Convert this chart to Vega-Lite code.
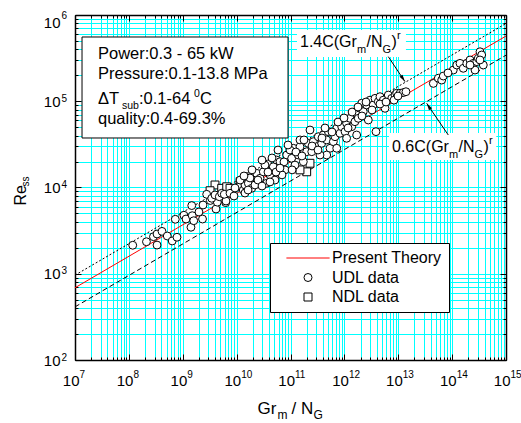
{
  "$schema": "https://vega.github.io/schema/vega-lite/v6.json",
  "width": 431,
  "height": 345,
  "autosize": {"type": "none"},
  "padding": {"left": 75, "top": 15, "right": 15, "bottom": 63},
  "background": "white",
  "config": {
    "font": "Liberation Sans",
    "view": {"stroke": null},
    "axis": {"labelFont": "Liberation Sans", "titleFont": "Liberation Sans", "labelColor": "black", "titleColor": "black", "tickColor": "black", "domainColor": "black", "titleFontWeight": "normal", "labelOverlap": false, "labelFlush": false, "labelBound": false, "tickWidth": 1, "gridColor": "#00ffff", "gridOpacity": 1, "gridWidth": 1}
  },
  "datasets": {
    "pts": [
      {"x": 3.97e9, "y": 10700, "series": "NDL data"},
      {"x": 3.21e9, "y": 9180, "series": "NDL data"},
      {"x": 5.28e9, "y": 9790, "series": "NDL data"},
      {"x": 6.54e9, "y": 10200, "series": "NDL data"},
      {"x": 7.53e9, "y": 9790, "series": "NDL data"},
      {"x": 1.16e10, "y": 11700, "series": "NDL data"},
      {"x": 2.30e11, "y": 19100, "series": "NDL data"},
      {"x": 2.00e11, "y": 15200, "series": "NDL data"},
      {"x": 1.50e11, "y": 16000, "series": "NDL data"},
      {"x": 1.77e10, "y": 13300, "series": "NDL data"},
      {"x": 1.18e8, "y": 2140, "series": "UDL data"},
      {"x": 2.12e8, "y": 2350, "series": "UDL data"},
      {"x": 2.86e8, "y": 2690, "series": "UDL data"},
      {"x": 3.33e8, "y": 2890, "series": "UDL data"},
      {"x": 4.12e8, "y": 3100, "series": "UDL data"},
      {"x": 3.33e8, "y": 2150, "series": "UDL data"},
      {"x": 5.16e8, "y": 2740, "series": "UDL data"},
      {"x": 6.37e8, "y": 2400, "series": "UDL data"},
      {"x": 7.82e8, "y": 2650, "series": "UDL data"},
      {"x": 7.27e8, "y": 4280, "series": "UDL data"},
      {"x": 1.05e9, "y": 4770, "series": "UDL data"},
      {"x": 1.15e9, "y": 4310, "series": "UDL data"},
      {"x": 1.42e9, "y": 3460, "series": "UDL data"},
      {"x": 1.50e9, "y": 4710, "series": "UDL data"},
      {"x": 1.47e9, "y": 6170, "series": "UDL data"},
      {"x": 1.60e9, "y": 4120, "series": "UDL data"},
      {"x": 2.00e9, "y": 5200, "series": "UDL data"},
      {"x": 2.38e9, "y": 6270, "series": "UDL data"},
      {"x": 2.33e9, "y": 4310, "series": "UDL data"},
      {"x": 3.25e9, "y": 7070, "series": "UDL data"},
      {"x": 4.14e9, "y": 5630, "series": "UDL data"},
      {"x": 4.38e9, "y": 6760, "series": "UDL data"},
      {"x": 6.27e9, "y": 6670, "series": "UDL data"},
      {"x": 2.78e9, "y": 8340, "series": "UDL data"},
      {"x": 3.45e9, "y": 7500, "series": "UDL data"},
      {"x": 3.97e9, "y": 8190, "series": "UDL data"},
      {"x": 4.77e9, "y": 7820, "series": "UDL data"},
      {"x": 5.28e9, "y": 8570, "series": "UDL data"},
      {"x": 6.35e9, "y": 6970, "series": "UDL data"},
      {"x": 5.90e9, "y": 8340, "series": "UDL data"},
      {"x": 7.53e9, "y": 8570, "series": "UDL data"},
      {"x": 8.93e9, "y": 7970, "series": "UDL data"},
      {"x": 1.07e10, "y": 10200, "series": "UDL data"},
      {"x": 1.33e10, "y": 9350, "series": "UDL data"},
      {"x": 1.43e10, "y": 10700, "series": "UDL data"},
      {"x": 1.65e10, "y": 11200, "series": "UDL data"},
      {"x": 1.91e10, "y": 9790, "series": "UDL data"},
      {"x": 2.36e10, "y": 14600, "series": "UDL data"},
      {"x": 2.72e10, "y": 12800, "series": "UDL data"},
      {"x": 3.13e10, "y": 15200, "series": "UDL data"},
      {"x": 3.61e10, "y": 11200, "series": "UDL data"},
      {"x": 4.16e10, "y": 14000, "series": "UDL data"},
      {"x": 5.15e10, "y": 12200, "series": "UDL data"},
      {"x": 3.78e10, "y": 18700, "series": "UDL data"},
      {"x": 4.80e10, "y": 17400, "series": "UDL data"},
      {"x": 5.54e10, "y": 20800, "series": "UDL data"},
      {"x": 3.36e10, "y": 18200, "series": "UDL data"},
      {"x": 6.38e10, "y": 19900, "series": "UDL data"},
      {"x": 8.50e10, "y": 23800, "series": "UDL data"},
      {"x": 1.05e11, "y": 21800, "series": "UDL data"},
      {"x": 1.13e11, "y": 28500, "series": "UDL data"},
      {"x": 1.40e11, "y": 23800, "series": "UDL data"},
      {"x": 1.50e11, "y": 29700, "series": "UDL data"},
      {"x": 1.73e11, "y": 19900, "series": "UDL data"},
      {"x": 2.00e11, "y": 26000, "series": "UDL data"},
      {"x": 2.14e11, "y": 32500, "series": "UDL data"},
      {"x": 2.48e11, "y": 26000, "series": "UDL data"},
      {"x": 2.65e11, "y": 34000, "series": "UDL data"},
      {"x": 3.06e11, "y": 29700, "series": "UDL data"},
      {"x": 3.28e11, "y": 38800, "series": "UDL data"},
      {"x": 3.79e11, "y": 32500, "series": "UDL data"},
      {"x": 4.06e11, "y": 40600, "series": "UDL data"},
      {"x": 4.70e11, "y": 35600, "series": "UDL data"},
      {"x": 5.04e11, "y": 44400, "series": "UDL data"},
      {"x": 5.41e11, "y": 28500, "series": "UDL data"},
      {"x": 6.24e11, "y": 34000, "series": "UDL data"},
      {"x": 6.70e11, "y": 38800, "series": "UDL data"},
      {"x": 7.21e11, "y": 48600, "series": "UDL data"},
      {"x": 8.30e11, "y": 42500, "series": "UDL data"},
      {"x": 8.92e11, "y": 50700, "series": "UDL data"},
      {"x": 1.03e12, "y": 44400, "series": "UDL data"},
      {"x": 1.10e12, "y": 55500, "series": "UDL data"},
      {"x": 1.27e12, "y": 63400, "series": "UDL data"},
      {"x": 1.37e12, "y": 50700, "series": "UDL data"},
      {"x": 1.57e12, "y": 57900, "series": "UDL data"},
      {"x": 1.69e12, "y": 72500, "series": "UDL data"},
      {"x": 1.81e12, "y": 63400, "series": "UDL data"},
      {"x": 1.95e12, "y": 82800, "series": "UDL data"},
      {"x": 2.24e12, "y": 75700, "series": "UDL data"},
      {"x": 2.10e12, "y": 95000, "series": "UDL data"},
      {"x": 2.60e12, "y": 90600, "series": "UDL data"},
      {"x": 2.78e12, "y": 60600, "series": "UDL data"},
      {"x": 2.99e12, "y": 103000, "series": "UDL data"},
      {"x": 3.44e12, "y": 90600, "series": "UDL data"},
      {"x": 3.70e12, "y": 108000, "series": "UDL data"},
      {"x": 4.26e12, "y": 98900, "series": "UDL data"},
      {"x": 4.58e12, "y": 113000, "series": "UDL data"},
      {"x": 5.28e12, "y": 103000, "series": "UDL data"},
      {"x": 5.68e12, "y": 82800, "series": "UDL data"},
      {"x": 6.53e12, "y": 118000, "series": "UDL data"},
      {"x": 7.55e12, "y": 108000, "series": "UDL data"},
      {"x": 8.71e12, "y": 118000, "series": "UDL data"},
      {"x": 9.35e12, "y": 124000, "series": "UDL data"},
      {"x": 1.08e13, "y": 124000, "series": "UDL data"},
      {"x": 1.24e13, "y": 126000, "series": "UDL data"},
      {"x": 1.39e13, "y": 129000, "series": "UDL data"},
      {"x": 3.86e12, "y": 44400, "series": "UDL data"},
      {"x": 1.10e12, "y": 37200, "series": "UDL data"},
      {"x": 1.69e12, "y": 40600, "series": "UDL data"},
      {"x": 7.21e11, "y": 28500, "series": "UDL data"},
      {"x": 4.70e11, "y": 23800, "series": "UDL data"},
      {"x": 4.48e13, "y": 161000, "series": "UDL data"},
      {"x": 5.54e13, "y": 185000, "series": "UDL data"},
      {"x": 6.40e13, "y": 176000, "series": "UDL data"},
      {"x": 6.86e13, "y": 196000, "series": "UDL data"},
      {"x": 1.05e14, "y": 230000, "series": "UDL data"},
      {"x": 1.22e14, "y": 263000, "series": "UDL data"},
      {"x": 1.40e14, "y": 275000, "series": "UDL data"},
      {"x": 1.61e14, "y": 241000, "series": "UDL data"},
      {"x": 1.87e14, "y": 275000, "series": "UDL data"},
      {"x": 2.15e14, "y": 301000, "series": "UDL data"},
      {"x": 2.47e14, "y": 275000, "series": "UDL data"},
      {"x": 2.86e14, "y": 288000, "series": "UDL data"},
      {"x": 3.06e14, "y": 315000, "series": "UDL data"},
      {"x": 3.29e14, "y": 375000, "series": "UDL data"},
      {"x": 3.54e14, "y": 344000, "series": "UDL data"},
      {"x": 3.79e14, "y": 263000, "series": "UDL data"},
      {"x": 2.66e14, "y": 230000, "series": "UDL data"},
      {"x": 2.15e14, "y": 263000, "series": "UDL data"},
      {"x": 3.29e14, "y": 301000, "series": "UDL data"},
      {"x": 8.38e13, "y": 213000, "series": "UDL data"},
      {"x": 9.33e9, "y": 9870, "series": "UDL data"},
      {"x": 1.77e10, "y": 12900, "series": "UDL data"},
      {"x": 2.19e10, "y": 10700, "series": "UDL data"},
      {"x": 7.91e10, "y": 16000, "series": "UDL data"},
      {"x": 1.21e11, "y": 18200, "series": "UDL data"},
      {"x": 6.95e10, "y": 14000, "series": "UDL data"},
      {"x": 9.79e10, "y": 27200, "series": "UDL data"},
      {"x": 3.53e11, "y": 23800, "series": "UDL data"},
      {"x": 1.16e10, "y": 12200, "series": "UDL data"},
      {"x": 2.96e10, "y": 20800, "series": "UDL data"},
      {"x": 2.30e11, "y": 46400, "series": "UDL data"},
      {"x": 1.50e11, "y": 35600, "series": "UDL data"},
      {"x": 5.38e10, "y": 15100, "series": "UDL data"},
      {"x": 1.43e10, "y": 8630, "series": "UDL data"},
      {"x": 1.37e10, "y": 13600, "series": "UDL data"},
      {"x": 1.93e10, "y": 16000, "series": "UDL data"},
      {"x": 2.49e10, "y": 12200, "series": "UDL data"},
      {"x": 3.82e10, "y": 15100, "series": "UDL data"},
      {"x": 4.54e10, "y": 22000, "series": "UDL data"},
      {"x": 7.57e10, "y": 19800, "series": "UDL data"},
      {"x": 8.99e10, "y": 31100, "series": "UDL data"},
      {"x": 1.26e11, "y": 25800, "series": "UDL data"},
      {"x": 1.63e11, "y": 23200, "series": "UDL data"},
      {"x": 1.78e11, "y": 35600, "series": "UDL data"},
      {"x": 2.51e11, "y": 30300, "series": "UDL data"},
      {"x": 3.24e11, "y": 27200, "series": "UDL data"},
      {"x": 3.84e11, "y": 37500, "series": "UDL data"},
      {"x": 4.37e11, "y": 49000, "series": "UDL data"},
      {"x": 5.89e11, "y": 44000, "series": "UDL data"},
      {"x": 7.62e11, "y": 57400, "series": "UDL data"},
      {"x": 9.84e11, "y": 64000, "series": "UDL data"},
      {"x": 1.17e12, "y": 49000, "series": "UDL data"},
      {"x": 1.39e12, "y": 75000, "series": "UDL data"},
      {"x": 1.79e12, "y": 85800, "series": "UDL data"},
      {"x": 2.12e12, "y": 67500, "series": "UDL data"},
      {"x": 2.52e12, "y": 98000, "series": "UDL data"},
      {"x": 3.26e12, "y": 79200, "series": "UDL data"},
      {"x": 4.58e12, "y": 92900, "series": "UDL data"},
      {"x": 5.93e12, "y": 98000, "series": "UDL data"},
      {"x": 8.34e12, "y": 103000, "series": "UDL data"},
      {"x": 9.89e12, "y": 115000, "series": "UDL data"},
      {"x": 6.38e10, "y": 16800, "series": "UDL data"},
      {"x": 1.07e11, "y": 16000, "series": "UDL data"},
      {"x": 2.96e10, "y": 10400, "series": "UDL data"},
      {"x": 1.63e10, "y": 9350, "series": "UDL data"},
      {"x": 4.16e10, "y": 11600, "series": "UDL data"},
      {"x": 5.86e10, "y": 27200, "series": "UDL data"}
    ],
    "lines": [
      {"line": "mid", "x": 1e7, "y": 688},
      {"line": "mid", "x": 1e15, "y": 570000},
      {"line": "up", "x": 1e7, "y": 963},
      {"line": "up", "x": 1e15, "y": 798000},
      {"line": "low", "x": 1e7, "y": 413},
      {"line": "low", "x": 1e15, "y": 342000}
    ],
    "boxes": [
      {"kind": "info", "x": 1.35e7, "x2": 9.0e10, "y": 556000, "y2": 37500},
      {"kind": "label", "x": 1.32e11, "x2": 1.39e13, "y": 670000, "y2": 326000},
      {"kind": "label", "x": 6.73e12, "x2": 6.6e14, "y": 42900, "y2": 20800}
    ],
    "arrows": [
      {"id": 1, "x": 6.53e12, "y": 329000, "x2": 1.33e13, "y2": 169000},
      {"id": 2, "x": 8.49e13, "y": 40600, "x2": 3.37e13, "y2": 94600}
    ],
    "info": [
      {"x": 2.67e7, "y": 309000, "text": "Power:0.3 - 65 kW"},
      {"x": 2.67e7, "y": 181000, "text": "Pressure:0.1-13.8 MPa"},
      {"x": 2.67e7, "y": 92900, "text": "ΔT"},
      {"x": 2.67e7, "y": 54400, "text": "quality:0.4-69.3%"}
    ],
    "labels": [
      {"x": 1.5e11, "y": 426000, "lead": "1.4C(Gr"},
      {"x": 7.66e12, "y": 25800, "lead": "0.6C(Gr"}
    ]
  },
  "encoding": {
    "x": {"field": "x", "type": "quantitative", "scale": {"type": "log", "domain": [1e7, 1e15], "nice": false}, "axis": null},
    "y": {"field": "y", "type": "quantitative", "scale": {"type": "log", "domain": [100, 1000000], "nice": false}, "axis": null}
  },
  "layer": [
    {
      "data": {"name": "boxes"},
      "transform": [{"filter": "datum.kind == 'info'"}],
      "mark": {"type": "rect", "fill": "white", "stroke": "black", "strokeWidth": 1},
      "encoding": {"x2": {"field": "x2"}, "y2": {"field": "y2"}}
    },
    {
      "data": {"name": "boxes"},
      "transform": [{"filter": "datum.kind == 'label'"}],
      "mark": {"type": "rect", "fill": "white"},
      "encoding": {"x2": {"field": "x2"}, "y2": {"field": "y2"}}
    },
    {
      "data": {"name": "lines"},
      "transform": [{"filter": "datum.line == 'mid'"}],
      "mark": {"type": "line", "color": "#ff0000", "strokeWidth": 1},
      "encoding": {
        "x": {"field": "x", "type": "quantitative", "scale": {"type": "log", "domain": [1e7, 1e15], "nice": false},
          "axis": {"orient": "bottom", "values": [1e7, 1e8, 1e9, 1e10, 1e11, 1e12, 1e13, 1e14, 1e15], "grid": false, "ticks": true, "tickSize": -6, "domain": false,
            "labelExpr": "'' + round(log(datum.value)/LN10)", "labelAlign": "left", "labelBaseline": "top", "labelOffset": 4, "labelPadding": 15, "labelFontSize": 10,
            "title": "m", "titleFontSize": 12, "titleAnchor": "start", "titleAlign": "left", "titleBaseline": "alphabetic", "titleX": 202, "titleY": 58}},
        "y": {"field": "y", "type": "quantitative", "scale": {"type": "log", "domain": [100, 1000000], "nice": false},
          "axis": {"orient": "left", "values": [100, 1000, 10000, 100000, 1000000], "grid": false, "ticks": true, "tickSize": -6, "domain": false,
            "labelExpr": "'' + round(log(datum.value)/LN10)", "labelAlign": "left", "labelBaseline": {"condition": {"test": "datum.value > 999999", "value": "middle"}, "value": "alphabetic"}, "labelPadding": 20, "labelFontSize": 10,
            "title": "ss", "titleFontSize": 10, "titleAngle": 270, "titleAnchor": "start", "titleAlign": "left", "titleBaseline": "alphabetic", "titleX": -47, "titleY": 171}}
      }
    },
    {
      "data": {"name": "lines"},
      "transform": [{"filter": "datum.line == 'up'"}],
      "mark": {"type": "line", "color": "black", "strokeWidth": 1, "strokeDash": [2, 2]},
      "encoding": {
        "x": {"field": "x", "type": "quantitative", "scale": {"type": "log", "domain": [1e7, 1e15], "nice": false},
          "axis": {"orient": "top", "values": [1e7, 2e7, 3e7, 4e7, 5e7, 6e7, 7e7, 8e7, 9e7, 1e8, 2e8, 3e8, 4e8, 5e8, 6e8, 7e8, 8e8, 9e8, 1e9, 2e9, 3e9, 4e9, 5e9, 6e9, 7e9, 8e9, 9e9, 1e10, 2e10, 3e10, 4e10, 5e10, 6e10, 7e10, 8e10, 9e10, 1e11, 2e11, 3e11, 4e11, 5e11, 6e11, 7e11, 8e11, 9e11, 1e12, 2e12, 3e12, 4e12, 5e12, 6e12, 7e12, 8e12, 9e12, 1e13, 2e13, 3e13, 4e13, 5e13, 6e13, 7e13, 8e13, 9e13, 1e14, 2e14, 3e14, 4e14, 5e14, 6e14, 7e14, 8e14, 9e14, 1e15],
            "grid": false, "ticks": true, "tickSize": -3, "domain": true, "domainWidth": 1.5, "labels": false,
            "title": "/ N", "titleFontSize": 17, "titleAnchor": "start", "titleAlign": "left", "titleBaseline": "alphabetic", "titleX": 216, "titleY": 398}},
        "y": {"field": "y", "type": "quantitative", "scale": {"type": "log", "domain": [100, 1000000], "nice": false},
          "axis": {"orient": "right", "values": [100, 200, 300, 400, 500, 600, 700, 800, 900, 1000, 2000, 3000, 4000, 5000, 6000, 7000, 8000, 9000, 10000, 20000, 30000, 40000, 50000, 60000, 70000, 80000, 90000, 100000, 200000, 300000, 400000, 500000, 600000, 700000, 800000, 900000, 1000000],
            "grid": false, "ticks": true, "tickSize": -3, "domain": true, "domainWidth": 1.5, "labels": false, "title": null}}
      }
    },
    {
      "data": {"name": "lines"},
      "transform": [{"filter": "datum.line == 'low'"}],
      "mark": {"type": "line", "color": "black", "strokeWidth": 1, "strokeDash": [5, 3]},
      "encoding": {
        "x": {"field": "x", "type": "quantitative", "scale": {"type": "log", "domain": [1e7, 1e15], "nice": false},
          "axis": {"orient": "top", "values": [1e7, 1e8, 1e9, 1e10, 1e11, 1e12, 1e13, 1e14, 1e15], "grid": false, "ticks": true, "tickSize": -6, "domain": false, "labels": false,
            "title": "G", "titleFontSize": 12, "titleAnchor": "start", "titleAlign": "left", "titleBaseline": "alphabetic", "titleX": 238, "titleY": 403}},
        "y": {"field": "y", "type": "quantitative", "scale": {"type": "log", "domain": [100, 1000000], "nice": false},
          "axis": {"orient": "right", "values": [100, 1000, 10000, 100000, 1000000], "grid": false, "ticks": true, "tickSize": -6, "domain": false, "labels": false, "title": null}}
      }
    },
    {
      "data": {"name": "pts"},
      "mark": {"type": "point", "filled": false, "fill": "white", "opacity": 1, "strokeWidth": 1, "size": 62},
      "encoding": {
        "x": {"field": "x", "type": "quantitative", "scale": {"type": "log", "domain": [1e7, 1e15], "nice": false},
          "axis": {"orient": "bottom", "values": [1e7, 2e7, 3e7, 4e7, 5e7, 6e7, 7e7, 8e7, 9e7, 1e8, 2e8, 3e8, 4e8, 5e8, 6e8, 7e8, 8e8, 9e8, 1e9, 2e9, 3e9, 4e9, 5e9, 6e9, 7e9, 8e9, 9e9, 1e10, 2e10, 3e10, 4e10, 5e10, 6e10, 7e10, 8e10, 9e10, 1e11, 2e11, 3e11, 4e11, 5e11, 6e11, 7e11, 8e11, 9e11, 1e12, 2e12, 3e12, 4e12, 5e12, 6e12, 7e12, 8e12, 9e12, 1e13, 2e13, 3e13, 4e13, 5e13, 6e13, 7e13, 8e13, 9e13, 1e14, 2e14, 3e14, 4e14, 5e14, 6e14, 7e14, 8e14, 9e14, 1e15],
            "grid": true, "ticks": true, "tickSize": -3, "domain": true, "domainWidth": 1.5,
            "labelExpr": "abs(log(datum.value)/LN10 - round(log(datum.value)/LN10)) < 0.001 ? '10' : ''", "labelAlign": "right", "labelBaseline": "top", "labelOffset": 4, "labelPadding": 16, "labelFontSize": 15,
            "title": "Gr", "titleFontSize": 17, "titleAnchor": "start", "titleAlign": "left", "titleBaseline": "alphabetic", "titleX": 182, "titleY": 53}},
        "y": {"field": "y", "type": "quantitative", "scale": {"type": "log", "domain": [100, 1000000], "nice": false},
          "axis": {"orient": "left", "values": [100, 200, 300, 400, 500, 600, 700, 800, 900, 1000, 2000, 3000, 4000, 5000, 6000, 7000, 8000, 9000, 10000, 20000, 30000, 40000, 50000, 60000, 70000, 80000, 90000, 100000, 200000, 300000, 400000, 500000, 600000, 700000, 800000, 900000, 1000000],
            "grid": true, "ticks": true, "tickSize": -3, "domain": true, "domainWidth": 1.5,
            "labelExpr": "abs(log(datum.value)/LN10 - round(log(datum.value)/LN10)) < 0.001 ? '10' : ''", "labelAlign": "right", "labelBaseline": {"condition": {"test": "datum.value > 999999", "value": "top"}, "value": "middle"}, "labelPadding": 18, "labelFontSize": 15,
            "title": "Re", "titleFontSize": 16, "titleAngle": 270, "titleAnchor": "start", "titleAlign": "left", "titleBaseline": "alphabetic", "titleX": -50, "titleY": 190}},
        "shape": {"field": "series", "type": "nominal",
          "scale": {"domain": ["Present Theory", "UDL data", "NDL data"], "range": ["M-5.4,0H5.4", "circle", "square"]},
          "legend": {"orient": "none", "legendX": 195, "legendY": 228, "title": null, "fillColor": "white", "strokeColor": "black", "padding": 7, "labelFont": "Liberation Sans", "labelFontSize": 16, "labelColor": "black", "labelOffset": 16, "symbolSize": 64, "symbolStrokeWidth": 1, "symbolOffset": 23, "rowPadding": 3.5, "labelExpr": "datum.label + '     '"}},
        "stroke": {"field": "series", "type": "nominal",
          "scale": {"domain": ["Present Theory", "UDL data", "NDL data"], "range": ["#ff0000", "#000000", "#000000"]},
          "legend": {"orient": "none", "legendX": 195, "legendY": 228, "title": null, "fillColor": "white", "strokeColor": "black", "padding": 7, "labelFont": "Liberation Sans", "labelFontSize": 16, "labelColor": "black", "labelOffset": 16, "symbolSize": 64, "symbolStrokeWidth": 1, "symbolOffset": 23, "rowPadding": 3.5, "labelExpr": "datum.label + '     '"}}
      }
    },
    {
      "data": {"name": "arrows"},
      "mark": {"type": "rule", "color": "black", "strokeWidth": 1},
      "encoding": {"x2": {"field": "x2"}, "y2": {"field": "y2"}}
    },
    {
      "data": {"name": "arrows"},
      "transform": [{"filter": "datum.id == 1"}],
      "mark": {"type": "point", "shape": "M0,0L-0.9,3.5L0.9,3.5Z", "size": 16, "filled": true, "color": "black", "opacity": 1, "angle": 146},
      "encoding": {"x": {"field": "x2", "type": "quantitative"}, "y": {"field": "y2", "type": "quantitative"}}
    },
    {
      "data": {"name": "arrows"},
      "transform": [{"filter": "datum.id == 2"}],
      "mark": {"type": "point", "shape": "M0,0L-0.9,3.5L0.9,3.5Z", "size": 16, "filled": true, "color": "black", "opacity": 1, "angle": 327},
      "encoding": {"x": {"field": "x2", "type": "quantitative"}, "y": {"field": "y2", "type": "quantitative"}}
    },
    {
      "data": {"name": "info"},
      "mark": {"type": "text", "align": "left", "baseline": "alphabetic", "fontSize": 16.5, "font": "Liberation Sans", "color": "black"},
      "encoding": {"text": {"field": "text"}}
    },
    {
      "data": {"name": "info"},
      "transform": [{"filter": "datum.text == 'ΔT'"}],
      "mark": {"type": "text", "align": "left", "baseline": "alphabetic", "fontSize": 10.5, "font": "Liberation Sans", "color": "black", "dx": 24, "dy": 5},
      "encoding": {"text": {"value": "sub"}}
    },
    {
      "data": {"name": "info"},
      "transform": [{"filter": "datum.text == 'ΔT'"}],
      "mark": {"type": "text", "align": "left", "baseline": "alphabetic", "fontSize": 16.5, "font": "Liberation Sans", "color": "black", "dx": 41},
      "encoding": {"text": {"value": ":0.1-64"}}
    },
    {
      "data": {"name": "info"},
      "transform": [{"filter": "datum.text == 'ΔT'"}],
      "mark": {"type": "text", "align": "left", "baseline": "alphabetic", "fontSize": 10.5, "font": "Liberation Sans", "color": "black", "dx": 96, "dy": -7},
      "encoding": {"text": {"value": "0"}}
    },
    {
      "data": {"name": "info"},
      "transform": [{"filter": "datum.text == 'ΔT'"}],
      "mark": {"type": "text", "align": "left", "baseline": "alphabetic", "fontSize": 16.5, "font": "Liberation Sans", "color": "black", "dx": 102},
      "encoding": {"text": {"value": "C"}}
    },
    {
      "data": {"name": "labels"},
      "mark": {"type": "text", "align": "left", "baseline": "alphabetic", "fontSize": 16, "font": "Liberation Sans", "color": "black"},
      "encoding": {"text": {"field": "lead"}}
    },
    {
      "data": {"name": "labels"},
      "mark": {"type": "text", "align": "left", "baseline": "alphabetic", "fontSize": 11, "font": "Liberation Sans", "color": "black", "dx": 57, "dy": 6},
      "encoding": {"text": {"value": "m"}}
    },
    {
      "data": {"name": "labels"},
      "mark": {"type": "text", "align": "left", "baseline": "alphabetic", "fontSize": 16, "font": "Liberation Sans", "color": "black", "dx": 66.5},
      "encoding": {"text": {"value": "/N"}}
    },
    {
      "data": {"name": "labels"},
      "mark": {"type": "text", "align": "left", "baseline": "alphabetic", "fontSize": 11, "font": "Liberation Sans", "color": "black", "dx": 82.5, "dy": 6},
      "encoding": {"text": {"value": "G"}}
    },
    {
      "data": {"name": "labels"},
      "mark": {"type": "text", "align": "left", "baseline": "alphabetic", "fontSize": 16, "font": "Liberation Sans", "color": "black", "dx": 91.5},
      "encoding": {"text": {"value": ")"}}
    },
    {
      "data": {"name": "labels"},
      "mark": {"type": "text", "align": "left", "baseline": "alphabetic", "fontSize": 11, "font": "Liberation Sans", "color": "black", "dx": 97, "dy": -8},
      "encoding": {"text": {"value": "r"}}
    }
  ],
  "resolve": {"axis": {"x": "independent", "y": "independent"}}
}
